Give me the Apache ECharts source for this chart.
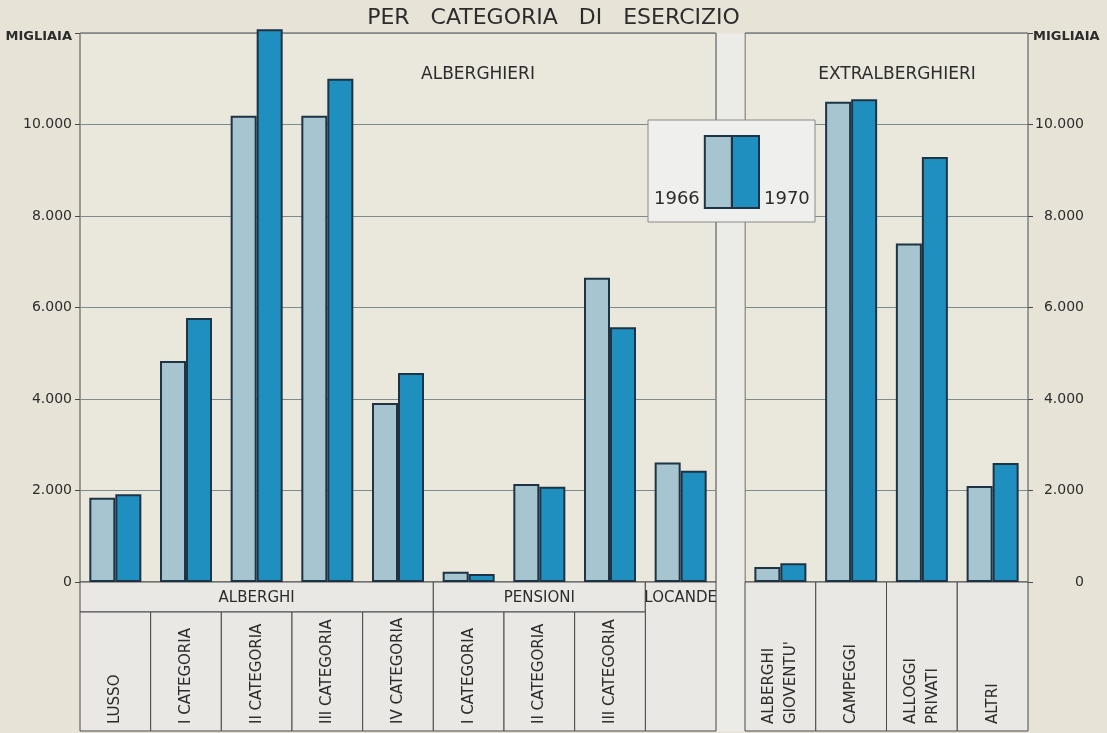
<!DOCTYPE html>
<html>
<head>
<meta charset="utf-8">
<script src="https://cdn.jsdelivr.net/npm/echarts@6/dist/echarts.min.js"></script>
<style>
  html, body { margin: 0; padding: 0; background: #e7e3d6; }
  #chart { width: 1107px; height: 733px; }
</style>
</head>
<body>
<div id="chart"></div>
<script>
// ---------------- DATA ----------------
const years = ['1966', '1970'];

// Left panel: ALBERGHIERI
const leftCategories = ['Alberghi lusso', 'Alberghi I cat.', 'Alberghi II cat.', 'Alberghi III cat.', 'Alberghi IV cat.',
                        'Pensioni I cat.', 'Pensioni II cat.', 'Pensioni III cat.', 'Locande'];
const leftSubLabels = ['LUSSO', 'I CATEGORIA', 'II CATEGORIA', 'III CATEGORIA', 'IV CATEGORIA',
                       'I CATEGORIA', 'II CATEGORIA', 'III CATEGORIA', ''];
const leftGroupNames = ['ALBERGHI', 'PENSIONI', 'LOCANDE'];
const leftGroupSpans = [5, 3, 1];
const left1966 = [1840, 4830, 10190, 10190, 3910, 225, 2140, 6650, 2610];
const left1970 = [1920, 5770, 12080, 11000, 4570, 175, 2080, 5570, 2430];

// Right panel: EXTRALBERGHIERI
const rightCategories = ['ALBERGHI\nGIOVENTU\'', 'CAMPEGGI', 'ALLOGGI\nPRIVATI', 'ALTRI'];
const right1966 = [330, 10500, 7400, 2100];
const right1970 = [410, 10550, 9290, 2600];

// Axis
const yMin = 0, yMax = 12000, yStep = 2000;
const yUnitLabel = 'MIGLIAIA';
const chartTitle = 'PER   CATEGORIA   DI   ESERCIZIO';
const leftPanelTitle = 'ALBERGHIERI';
const rightPanelTitle = 'EXTRALBERGHIERI';

// ---------------- STYLE ----------------
const FONT = '"DejaVu Sans", "Liberation Sans", sans-serif';
const TEXT = '#2c2c2c';
const LINE = '#4a4a4a';
const GRIDLINE = '#7f8c8d';
const PLOT_BG = '#eae7dd';
const CELL_BG = '#e9e8e4';
const C1966 = '#a7c5d1';
const C1970 = '#1f8fbf';
const BAR_BORDER = '#1e3444';
const ROW1 = 30;      // height of group row (px)
const TABLE_H = 149;  // total table height (px)

function fmt(v) { return String(v).replace(/\B(?=(\d{3})+(?!\d))/g, '.'); }

// group data built from spans
const leftGroupData = [];
(function () {
  let s = 0;
  leftGroupSpans.forEach(function (n) { leftGroupData.push([s, s + n - 1]); s += n; });
})();

function groupRender(params, api) {
  const i = params.dataIndex;
  const from = api.value(0), to = api.value(1);
  const bw = api.size([1, 0])[0];
  const p0 = api.coord([from, 0]);
  const p1 = api.coord([to, 0]);
  const x0 = p0[0] - bw / 2, x1 = p1[0] + bw / 2;
  let allEmpty = true;
  for (let k = from; k <= to; k++) if (leftSubLabels[k]) allEmpty = false;
  const h = allEmpty ? TABLE_H : ROW1;
  return {
    type: 'group',
    children: [
      { type: 'rect', shape: { x: x0, y: p0[1], width: x1 - x0, height: h },
        style: { fill: CELL_BG, stroke: LINE, lineWidth: 1 } },
      { type: 'text', x: (x0 + x1) / 2, y: p0[1] + ROW1 / 2 + 1,
        style: { text: leftGroupNames[i], fill: TEXT, font: '15px ' + FONT, align: 'center', verticalAlign: 'middle' } }
    ]
  };
}

function makeCellRender(labels, topOffset) {
  return function (params, api) {
    const i = params.dataIndex;
    const label = labels[i];
    if (!label) return;
    const bw = api.size([1, 0])[0];
    const p = api.coord([api.value(0), 0]);
    const y0 = p[1] + topOffset;
    const h = TABLE_H - topOffset;
    return {
      type: 'group',
      children: [
        { type: 'rect', shape: { x: p[0] - bw / 2, y: y0, width: bw, height: h },
          style: { fill: CELL_BG, stroke: LINE, lineWidth: 1 } },
        { type: 'text', x: p[0], y: y0 + h - 7, rotation: Math.PI / 2,
          style: { text: label, fill: TEXT, font: '15px ' + FONT, align: 'left', verticalAlign: 'middle', lineHeight: 22 } }
      ]
    };
  };
}

function yAxisCfg(gridIndex, position) {
  const right = position === 'right';
  return {
    type: 'value', gridIndex: gridIndex, position: position,
    min: yMin, max: yMax, interval: yStep,
    axisLine: { show: false },
    axisTick: { show: true, length: 5, lineStyle: { color: LINE } },
    splitLine: { show: true, lineStyle: { color: GRIDLINE, width: 1 } },
    axisLabel: {
      margin: right ? 5 : 8,
      align: right ? 'left' : 'right',
      formatter: function (v) { return v === yMax ? '{m|' + yUnitLabel + '}' : '{n|' + fmt(v) + '}'; },
      rich: {
        n: { fontFamily: FONT, fontSize: 14, color: TEXT, width: right ? 51 : undefined, align: 'right' },
        m: { fontFamily: FONT, fontSize: 13, fontWeight: 'bold', color: TEXT, padding: [8, 0, 0, 0] }
      }
    }
  };
}

function barSeries(name, xi, data, color) {
  return {
    name: name, type: 'bar', xAxisIndex: xi, yAxisIndex: xi, data: data,
    barWidth: 26, barGap: '0%', clip: false, z: 3,
    itemStyle: { color: color, borderColor: BAR_BORDER, borderWidth: 2 },
    emphasis: { disabled: true }
  };
}

function legendCfg(name, left, align) {
  return {
    data: [name], left: left, top: 135, align: align, orient: 'horizontal', padding: 0,
    icon: 'rect', itemWidth: 27, itemHeight: 72, selectedMode: false,
    formatter: '{t|{name}}',
    textStyle: { rich: { t: { fontFamily: FONT, fontSize: 18, color: TEXT, padding: [54, 0, 0, 0] } } }
  };
}

const chart = echarts.init(document.getElementById('chart'), null, { renderer: 'canvas' });
chart.setOption({
  backgroundColor: '#e7e3d6',
  animation: false,
  title: [
    { text: chartTitle, left: 'center', top: 7, padding: 0,
      textStyle: { fontFamily: FONT, fontSize: 22, fontWeight: 'normal', color: TEXT } },
    { text: leftPanelTitle, left: 478, top: 66, textAlign: 'center', padding: 0,
      textStyle: { fontFamily: FONT, fontSize: 17, fontWeight: 'normal', color: TEXT } },
    { text: rightPanelTitle, left: 897, top: 66, textAlign: 'center', padding: 0,
      textStyle: { fontFamily: FONT, fontSize: 17, fontWeight: 'normal', color: TEXT } }
  ],
  grid: [
    { left: 80, top: 33, width: 636, height: 549, show: true, backgroundColor: PLOT_BG, borderColor: LINE, borderWidth: 1 },
    { left: 745, top: 33, width: 283, height: 549, show: true, backgroundColor: PLOT_BG, borderColor: LINE, borderWidth: 1 }
  ],
  xAxis: [
    { type: 'category', gridIndex: 0, data: leftCategories, axisLine: { show: false }, axisTick: { show: false }, axisLabel: { show: false } },
    { type: 'category', gridIndex: 1, data: rightCategories, axisLine: { show: false }, axisTick: { show: false }, axisLabel: { show: false } }
  ],
  yAxis: [yAxisCfg(0, 'left'), yAxisCfg(1, 'right')],
  legend: [legendCfg(years[0], 654, 'right'), legendCfg(years[1], 731, 'left')],
  graphic: [
    { type: 'rect', z: 1, silent: true, shape: { x: 717, y: 33.5, width: 27.5, height: 698 }, style: { fill: '#ebebe8' } },
    { type: 'rect', z: 3, silent: true, shape: { x: 648, y: 120, width: 167, height: 102 }, style: { fill: '#efefed', stroke: '#8a8a8a', lineWidth: 1 } }
  ],
  series: [
    barSeries(years[0], 0, left1966, C1966),
    barSeries(years[1], 0, left1970, C1970),
    barSeries(years[0], 1, right1966, C1966),
    barSeries(years[1], 1, right1970, C1970),
    { type: 'custom', xAxisIndex: 0, yAxisIndex: 0, clip: false, silent: true, z: 2,
      data: leftGroupData, renderItem: groupRender },
    { type: 'custom', xAxisIndex: 0, yAxisIndex: 0, clip: false, silent: true, z: 2,
      data: leftSubLabels.map(function (_, i) { return [i, 0]; }), renderItem: makeCellRender(leftSubLabels, ROW1) },
    { type: 'custom', xAxisIndex: 1, yAxisIndex: 1, clip: false, silent: true, z: 2,
      data: rightCategories.map(function (_, i) { return [i, 0]; }), renderItem: makeCellRender(rightCategories, 0) }
  ]
});
</script>
</body>
</html>
